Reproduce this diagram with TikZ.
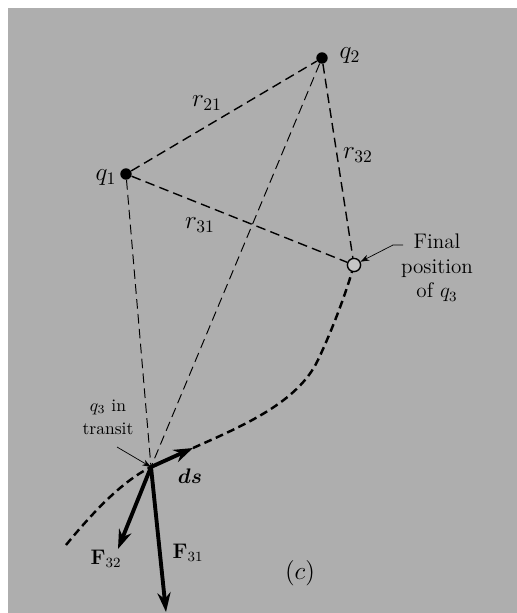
\documentclass[tikz,border=0pt]{standalone}
\usepackage{amsmath, amssymb}
\usetikzlibrary{arrows.meta, calc, positioning}
\definecolor{paper}{HTML}{AEAEAE}
\tikzset{
  >={Stealth[length=7pt]},
  every picture/.style={line join=round, font=\large},
  sep/.style={dash pattern=on 5.5pt off 3pt, line width=0.8pt},
  septhin/.style={dash pattern=on 5.5pt off 3pt, line width=0.55pt},
  track/.style={dash pattern=on 4.5pt off 2.6pt, line width=1.4pt},
  force/.style={->, line width=2.2pt, >={Stealth[length=11pt, width=7.5pt]}},
  callout/.style={->, thin, >={Stealth[length=5pt, width=3.5pt]}},
  % point charges
  charge/.style={circle, fill, inner sep=0pt, minimum size=6.5pt},
  endpt/.style={circle, draw, thick, fill=paper!70!white, inner sep=0pt, minimum size=7.5pt},
  sym/.style={font=\Large},
}
\begin{document}
\begin{tikzpicture}[x={(0.02cm,0cm)}, y={(0cm,-0.02cm)}]
  \fill[white] (0,0) rectangle (517,613);
  \fill[paper] (8,8) rectangle (517,613);
  \useasboundingbox (0,0) rectangle (517,613);
  % charges
  \node[charge] (q1) at (126,174) {};
  \node[charge] (q2) at (322,58) {};
  \node[endpt] (q3f) at (354,265) {};
  \coordinate (q3t) at (151,467);
  \node[sym] at (106,178) {$q_1$};
  \node[sym] at (350,56) {$q_2$};
  % separations
  \draw[sep] (q1) -- (q2);
  \draw[sep] (q1) -- (q3f);
  \draw[sep] (q2) -- (q3f);
  \draw[septhin] (q1) -- (q3t);
  \draw[septhin] (q2) -- (q3t);
  \node[sym] at (207,103) {$r_{21}$};
  \node[sym] at (358,155) {$r_{32}$};
  \node[sym] at (200,225) {$r_{31}$};
  % path of q3
  \coordinate (dsend) at (193,448);
  \draw[track] (66,545) .. controls (98,506) and (125,480) .. (q3t);
  \draw[track] (dsend) .. controls (245,425) and (298,402) .. (318,360)
     .. controls (334,326) and (346,292) .. (q3f);
  % forces and displacement
  \draw[force] (q3t) -- (dsend);
  \draw[force] (q3t) -- (118,549);
  \draw[force] (q3t) -- (166,612);
  \node at (190,476) {$\boldsymbol{ds}$};
  \node at (106,559) {$\mathbf{F}_{32}$};
  \node at (188,553) {$\mathbf{F}_{31}$};
  \node[font=\Large] at (300,573) {$(c)$};
  % callouts
  \node[align=center] (fin) at (437,268) {Final\\position\\of $q_3$};
  \coordinate (finc) at (403,245);
  \draw[callout] (finc) -- ++(-10,0) -- (q3f);
  \node[align=center, font=\normalsize] (trn) at (108,417) {$q_3$ in\\[1pt]transit};
  \draw[callout] (117,447) -- (q3t);
\end{tikzpicture}
\end{document}
